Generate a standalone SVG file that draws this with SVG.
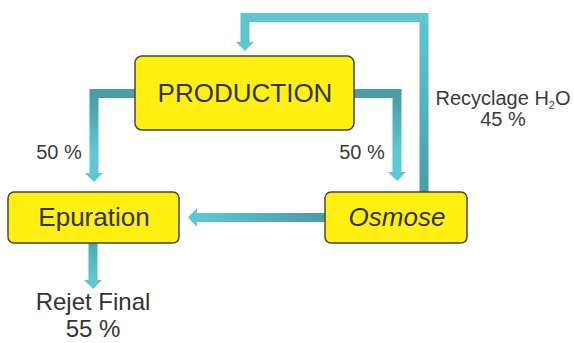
<svg xmlns="http://www.w3.org/2000/svg" width="574" height="343" viewBox="0 0 574 343">
<defs>
<linearGradient id="gL" gradientUnits="userSpaceOnUse" x1="0" y1="98" x2="0" y2="150"><stop offset="0" stop-color="#4A9EA6"/><stop offset="1" stop-color="#5DC7D3"/></linearGradient>
<linearGradient id="gR" gradientUnits="userSpaceOnUse" x1="0" y1="98" x2="0" y2="150"><stop offset="0" stop-color="#4A9EA6"/><stop offset="1" stop-color="#5DC7D3"/></linearGradient>
<linearGradient id="gLoop" gradientUnits="userSpaceOnUse" x1="0" y1="190" x2="0" y2="20"><stop offset="0" stop-color="#4A9EA6"/><stop offset="1" stop-color="#5DC7D3"/></linearGradient>
<linearGradient id="gH" gradientUnits="userSpaceOnUse" x1="320" y1="0" x2="195" y2="0"><stop offset="0" stop-color="#4A9EA6"/><stop offset="1" stop-color="#5DC7D3"/></linearGradient>
<linearGradient id="gD" gradientUnits="userSpaceOnUse" x1="0" y1="244" x2="0" y2="280"><stop offset="0" stop-color="#4FA9B2"/><stop offset="1" stop-color="#5DC7D3"/></linearGradient>
</defs>
<style>
.box{fill:#FFF012;stroke:#444;stroke-width:1.5}
.lbl{font-family:"Liberation Sans","DejaVu Sans",sans-serif;fill:#333;text-anchor:middle}
.big{font-size:26px}
.rej{font-size:24px}
.small{font-size:20px;fill:#3a3a3a}
.line{fill:none;stroke-width:9;stroke-linejoin:miter}
.head{fill:#5DC7D3}
</style>
<g id="connectors">
<path class="line" d="M135,93.5 H94 V174" stroke="url(#gL)"/>
<polygon class="head" points="85,173 103,173 94,182"/>
<path class="line" d="M354,93.5 H397 V173" stroke="url(#gR)"/>
<polygon class="head" points="388,172 406,172 397,181"/>
<path class="line" d="M424,192 V17.5 H245 V43" stroke="url(#gLoop)"/>
<polygon class="head" points="236,42 254,42 245,51"/>
<path class="line" d="M325,217.5 H196" stroke="url(#gH)"/>
<polygon class="head" points="197,208 197,227 188,217.5"/>
<path class="line" d="M93,243 V281" stroke="url(#gD)"/>
<polygon class="head" points="84,280 102,280 93,289"/>
</g>
<g id="production">
<rect class="box" x="135" y="56" width="219" height="74" rx="7"/>
<text class="lbl big" x="245" y="102">PRODUCTION</text>
</g>
<g id="epuration">
<rect class="box" x="8" y="192" width="171" height="51" rx="6"/>
<text class="lbl big" x="94" y="226">Epuration</text>
</g>
<g id="osmose">
<rect class="box" x="325" y="192" width="142" height="51" rx="6"/>
<text class="lbl big" x="397" y="226" font-style="italic">Osmose</text>
</g>
<g id="labels">
<text class="lbl small" x="59" y="159">50 %</text>
<text class="lbl small" x="362" y="159">50 %</text>
<text class="lbl small" x="503" y="105">Recyclage H<tspan font-size="11" dy="4">2</tspan><tspan dy="-4">O</tspan></text>
<text class="lbl small" x="503" y="126">45 %</text>
<text class="lbl rej" x="93" y="310">Rejet Final</text>
<text class="lbl rej" x="93" y="337">55 %</text>
</g>
</svg>
